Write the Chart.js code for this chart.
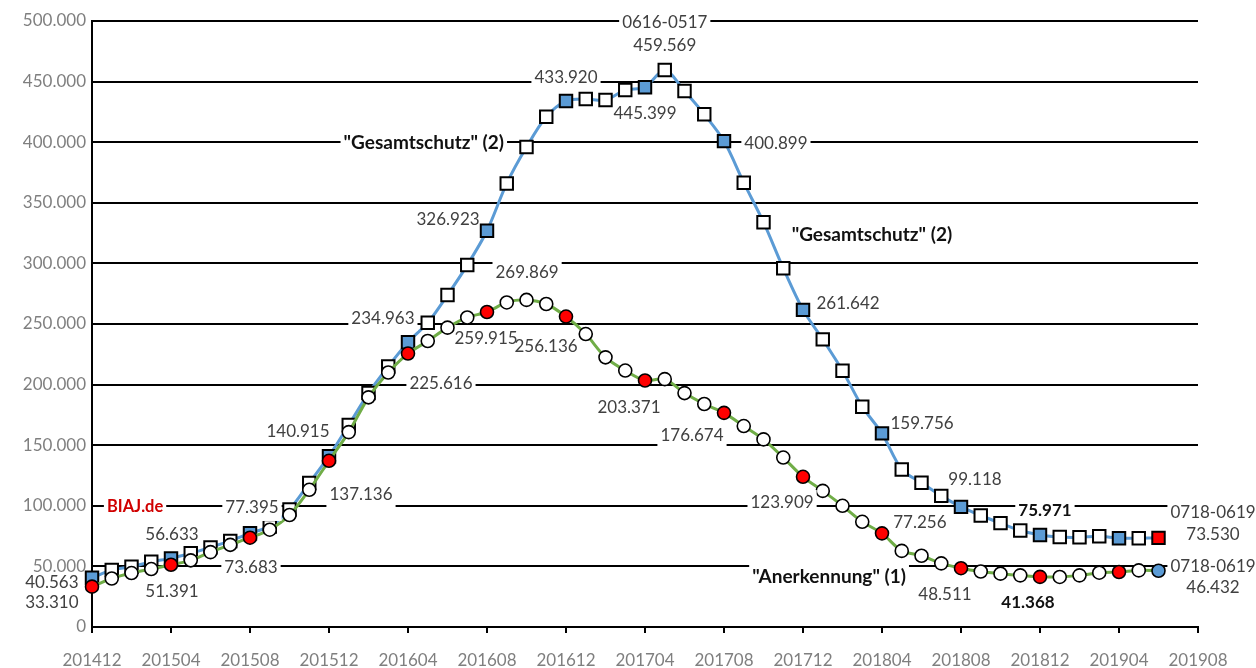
<!DOCTYPE html>
<html>
<head>
<meta charset="utf-8">
<script src="https://cdn.jsdelivr.net/npm/chart.js@4"></script>
<style>
  html, body { margin: 0; background: #fff; }
</style>
</head>
<body>
<canvas id="chart" width="1256" height="668"></canvas>
<script>
const months = [
  '201412',
  '201501','201502','201503','201504','201505','201506','201507','201508','201509','201510','201511','201512',
  '201601','201602','201603','201604','201605','201606','201607','201608','201609','201610','201611','201612',
  '201701','201702','201703','201704','201705','201706','201707','201708','201709','201710','201711','201712',
  '201801','201802','201803','201804','201805','201806','201807','201808','201809','201810','201811','201812',
  '201901','201902','201903','201904','201905','201906'
];
const tickLabels = ['201412','201504','201508','201512','201604','201608','201612','201704',
                    '201708','201712','201804','201808','201812','201904','201908'];

// "Gesamtschutz" (2)
const gesamtschutz = [
  40563,
  47000, 49700, 53900, 56633, 60800, 65700, 71000, 77395, 83000, 97000, 118800, 140915,
  166600, 193000, 215000, 234963, 251000, 273900, 298600, 326923, 366000, 396000, 421000, 433920,
  435600, 434800, 443000, 445399, 459569, 442200, 423000, 400899, 366600, 334000, 296000, 261642,
  237300, 211500, 181800, 159756, 130000, 119000, 108200, 99118, 92000, 85700, 79600, 75971,
  74200, 74000, 74800, 73200, 73300, 73530
];
// "Anerkennung" (1)
const anerkennung = [
  33310,
  40000, 44500, 47800, 51391, 55000, 61800, 67800, 73683, 80300, 92400, 113200, 137136,
  160800, 189500, 210000, 225616, 236000, 247000, 255400, 259915, 267800, 269869, 266500, 256136,
  241700, 222500, 211600, 203371, 204500, 193000, 184000, 176674, 165800, 154800, 139800, 123909,
  112300, 100000, 86800, 77256, 62800, 58800, 52500, 48511, 45800, 44000, 42600, 41368,
  41300, 42600, 44800, 45400, 46700, 46432
];

// text, month index, value, flags (b = bold, t = bold caption, w = white box, r = red)
const notes = [
  ['0616-0517', 29.0, 499000, 'w'],
  ['459.569', 29.0, 480000, ''],
  ['433.920', 24.0, 453700, 'w'],
  ['445.399', 28.0, 424000, ''],
  ['"Gesamtschutz" (2)', 16.8, 399300, 'tw'],
  ['400.899', 34.63, 399300, 'w'],
  ['326.923', 18.03, 336600, ''],
  ['269.869', 22.03, 292100, 'w'],
  ['234.963', 14.73, 254900, 'w'],
  ['259.915', 19.95, 238400, ''],
  ['256.136', 22.99, 231800, ''],
  ['225.616', 17.67, 200500, 'w'],
  ['203.371', 27.19, 181500, ''],
  ['176.674', 30.38, 157600, 'w'],
  ['140.915', 10.43, 160900, ''],
  ['137.136', 13.62, 108900, 'w'],
  ['BIAJ.de', 2.18, 99000, 'rbw'],
  ['77.395', 8.1, 98200, 'w'],
  ['56.633', 4.05, 76700, ''],
  ['73.683', 8.05, 48700, 'w'],
  ['51.391', 4.05, 28900, ''],
  ['40.563', -2.03, 37100, ''],
  ['33.310', -2.03, 20600, ''],
  ['"Gesamtschutz" (2)', 39.49, 323400, 't'],
  ['261.642', 38.28, 267300, ''],
  ['159.756', 42.03, 167500, ''],
  ['123.909', 34.94, 102300, 'w'],
  ['77.256', 41.92, 85800, ''],
  ['99.118', 44.71, 121300, ''],
  ['75.971', 48.25, 96500, 'bw'],
  ['0718-0619', 56.76, 94100, 'w'],
  ['73.530', 56.76, 75900, ''],
  ['0718-0619', 56.76, 49500, 'w'],
  ['46.432', 56.76, 32200, ''],
  ['"Anerkennung" (1)', 37.32, 41300, 'tw'],
  ['48.511', 43.19, 26400, ''],
  ['41.368', 47.39, 19800, 'b']
];

const BLUE = '#5B9BD5';
const GREEN = '#70AD47';
const RED = '#FF0000';
const last = months.length - 1;

function dots(vals) {
  return months.map((m, i) => ({ x: i, y: vals[i] }));
}
function fill(on, lastColor) {
  return months.map((m, i) => i === last ? lastColor : (i % 4 === 0 ? on : '#FFFFFF'));
}
function fmt(v) {
  return String(v).replace(/\B(?=(\d{3})+(?!\d))/g, '.');
}

const notesPlugin = {
  id: 'notes',
  afterDatasetsDraw(chart) {
    const ctx = chart.ctx;
    const xs = chart.scales.x, ys = chart.scales.y;
    ctx.save();
    ctx.textAlign = 'center';
    ctx.textBaseline = 'middle';
    notes.forEach(([text, xi, yv, flags]) => {
      const px = xs.getPixelForValue(xi);
      const py = ys.getPixelForValue(yv);
      let font = '17px Lato';
      if (flags.includes('t')) font = 'bold 19px Lato';
      else if (flags.includes('r')) font = 'bold 16.5px Lato';
      else if (flags.includes('b')) font = 'bold 17px Lato';
      ctx.font = font;
      const w = ctx.measureText(text).width;
      if (flags.includes('w')) {
        ctx.fillStyle = '#FFFFFF';
        ctx.fillRect(px - w / 2 - 3, py - 13, w + 6, 26);
      }
      ctx.fillStyle = flags.includes('r') ? '#D00000'
        : (flags.includes('b') || flags.includes('t') ? '#111111' : '#404040');
      ctx.fillText(text, px, py);
    });
    ctx.restore();
  }
};

new Chart(document.getElementById('chart').getContext('2d'), {
  type: 'line',
  data: {
    datasets: [
      {
        label: '"Anerkennung" (1)',
        data: dots(anerkennung),
        borderColor: GREEN,
        borderWidth: 3,
        tension: 0.3,
        pointStyle: 'circle',
        pointRadius: 6.5,
        pointBorderWidth: 1.6,
        pointBorderColor: '#000000',
        pointBackgroundColor: fill(RED, BLUE),
        clip: false,
        order: 0
      },
      {
        label: '"Gesamtschutz" (2)',
        data: dots(gesamtschutz),
        borderColor: BLUE,
        borderWidth: 3,
        tension: 0.3,
        pointStyle: 'rect',
        pointRadius: 8.8,
        pointBorderWidth: 2,
        pointBorderColor: '#000000',
        pointBackgroundColor: fill(BLUE, RED),
        clip: false,
        order: 1
      }
    ]
  },
  options: {
    responsive: false,
    animation: false,
    layout: { padding: { top: 21, right: 58, left: 0, bottom: 0 } },
    plugins: { legend: { display: false }, tooltip: { enabled: false } },
    scales: {
      x: {
        type: 'linear',
        min: 0,
        max: 56,
        afterFit(scale) { scale.height = 41; },
        ticks: {
          stepSize: 4,
          autoSkip: false,
          maxRotation: 0,
          color: '#7F7F7F',
          font: { family: 'Lato', size: 17 },
          padding: 17,
          callback: (v) => tickLabels[v / 4]
        },
        grid: { drawOnChartArea: false, drawTicks: true, tickLength: 6, color: '#000000', lineWidth: 2 },
        border: { display: true, color: '#000000', width: 2 }
      },
      y: {
        min: 0,
        max: 500000,
        afterFit(scale) { scale.width = 92; },
        ticks: {
          stepSize: 50000,
          color: '#7F7F7F',
          font: { family: 'Lato', size: 17 },
          padding: 6,
          callback: (v) => fmt(v)
        },
        grid: { color: '#000000', lineWidth: 2, drawTicks: false },
        border: { display: true, color: '#000000', width: 2 }
      }
    }
  },
  plugins: [notesPlugin]
});
</script>
</body>
</html>
